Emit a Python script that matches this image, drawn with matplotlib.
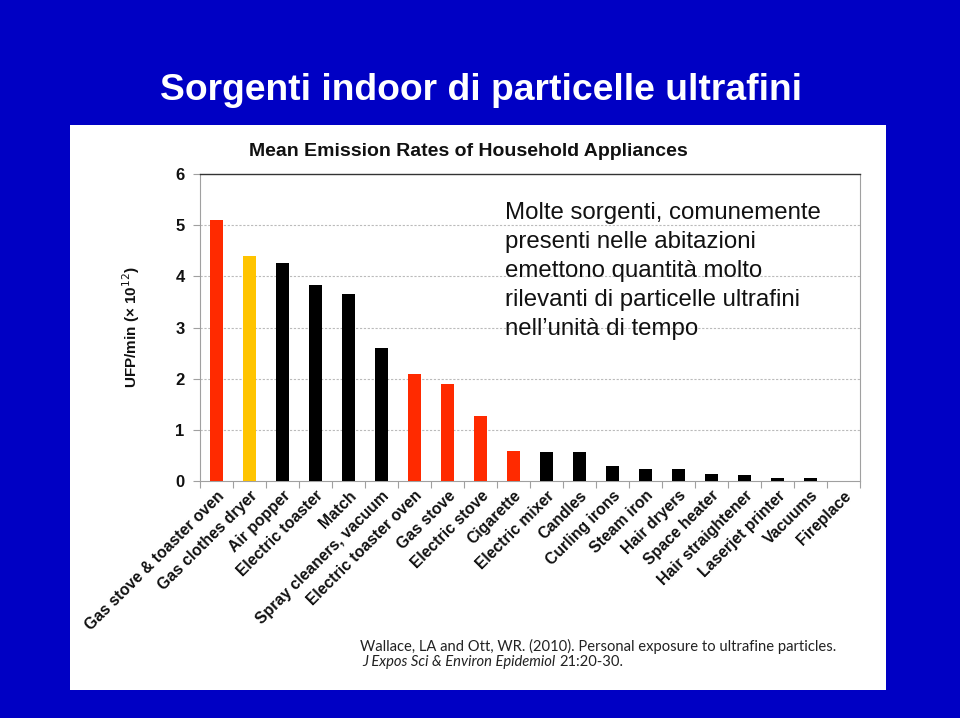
import matplotlib
matplotlib.use("Agg")
import matplotlib.pyplot as plt
from matplotlib.patches import Rectangle
import numpy as np

categories = ["Gas stove & toaster oven", "Gas clothes dryer", "Air popper",
              "Electric toaster", "Match", "Spray cleaners, vacuum",
              "Electric toaster oven", "Gas stove", "Electric stove", "Cigarette",
              "Electric mixer", "Candles", "Curling irons", "Steam iron",
              "Hair dryers", "Space heater", "Hair straightener",
              "Laserjet printer", "Vacuums", "Fireplace"]
values = [5.10, 4.40, 4.26, 3.83, 3.66, 2.59, 2.10, 1.89, 1.27, 0.58,
          0.57, 0.56, 0.29, 0.235, 0.23, 0.13, 0.11, 0.06, 0.06, 0.0]
color_groups = ["red", "gold", "black", "black", "black", "black", "red", "red",
                "red", "red", "black", "black", "black", "black", "black",
                "black", "black", "black", "black", "black"]
yticks = [0, 1, 2, 3, 4, 5, 6]

palette = {"red": "#FF2A00", "gold": "#FFC400", "black": "#000000"}

W, H = 960, 718
fig = plt.figure(figsize=(W / 100, H / 100), dpi=100)
fig.patch.set_facecolor("#0000C4")

def fx(px):
    return px / W

def fy(py):
    return 1 - py / H

# white panel
fig.patches.append(Rectangle((fx(70), fy(690)), fx(886) - fx(70), fy(125) - fy(690),
                             transform=fig.transFigure, facecolor="white",
                             edgecolor="none", zorder=-5))

# slide title
fig.text(fx(160), fy(90), "Sorgenti indoor di particelle ultrafini",
         color="white", fontsize=26.8, fontweight="bold",
         family="Liberation Sans", ha="left", va="center")

# chart title
fig.text(fx(468), fy(151), "Mean Emission Rates of Household Appliances",
         color="#111111", fontsize=14, fontweight="bold",
         family="Liberation Sans", ha="center", va="center")

ax = fig.add_axes([fx(200), fy(481), fx(860) - fx(200), fy(174) - fy(481)])
ax.set_zorder(2)
ax.set_facecolor("white")
x = np.arange(len(categories))
ax.bar(x, values, width=0.41, color=[palette[c] for c in color_groups], zorder=3)
ax.set_xlim(-0.5, len(categories) - 0.5)
ax.set_ylim(0, 6)
ax.set_yticks(yticks)
ax.set_yticklabels([str(t) for t in yticks], fontsize=12, fontweight="bold",
                   family="Liberation Sans", color="#111111")
for t in yticks[1:-1]:
    ax.axhline(t, color="#BBBBBB", linewidth=0.8, linestyle=(0, (2, 1.5)), zorder=1)

ax.set_xticks(x)
ax.set_xticklabels(categories, rotation=45, ha="right", rotation_mode="anchor",
                   fontsize=11.3, fontweight="bold", family="Liberation Sans",
                   color="#111111")
ax.tick_params(axis="x", length=0, pad=5)
ax.set_xticks(np.arange(-0.5, len(categories), 1.0), minor=True)
ax.tick_params(axis="x", which="minor", length=5, color="#A0A0A0", width=0.8)
ax.tick_params(axis="y", length=5, color="#A0A0A0", width=0.8, pad=6)

for side in ["left", "bottom", "right"]:
    ax.spines[side].set_color("#A0A0A0")
    ax.spines[side].set_linewidth(0.8)
ax.spines["top"].set_color("#333333")
ax.spines["top"].set_linewidth(1.0)

ax.set_ylabel("UFP/min (× 10$^{12}$)", fontsize=11, fontweight="bold",
              family="Liberation Sans", color="#111111", labelpad=24)

# annotation text
ann_lines = ["Molte sorgenti, comunemente", "presenti nelle abitazioni",
             "emettono quantità molto", "rilevanti di particelle ultrafini",
             "nell’unità di tempo"]
for i, line in enumerate(ann_lines):
    fig.text(fx(505), fy(213 + i * 29), line, fontsize=17.3, zorder=5,
             family="Liberation Sans", color="#111111", ha="left", va="center")

# citation
fig.text(fx(360), fy(646), "Wallace, LA and Ott, WR. (2010). Personal exposure to ultrafine particles.",
         fontsize=10.6, family="Lato", color="#222222", ha="left", va="center")
t1 = fig.text(fx(362), fy(662), "J Expos Sci & Environ Epidemiol", fontsize=10.6,
              family="Lato", style="italic", color="#222222", ha="left", va="center")
fig.canvas.draw()
bb = t1.get_window_extent(renderer=fig.canvas.get_renderer())
fig.text(bb.x1 / W + fx(4), fy(662), "21:20-30.", fontsize=10.6, family="Lato",
         color="#222222", ha="left", va="center")

fig.savefig("out.png", dpi=100, facecolor=fig.get_facecolor())
